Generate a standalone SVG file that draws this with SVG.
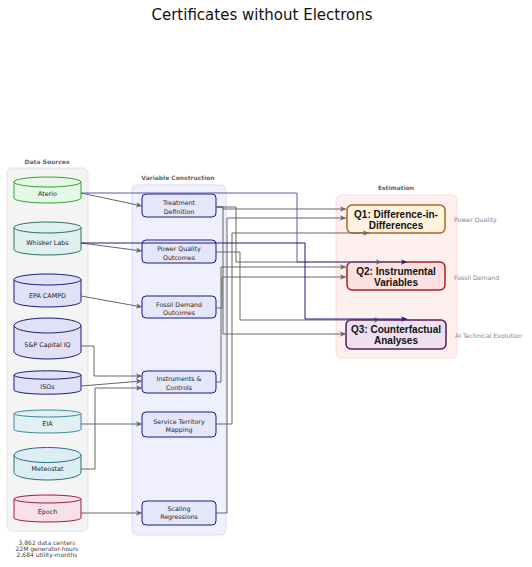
<svg xmlns="http://www.w3.org/2000/svg" width="532" height="567" viewBox="0 0 532 567">
<style>
text{font-family:"DejaVu Sans",sans-serif;fill:#222;text-anchor:middle;dominant-baseline:central}
.title{font-size:15px;fill:#111}
.grp{font-size:6px;font-weight:bold;fill:#666}
.cyl{font-size:6.4px}
.vc{font-size:6.3px}
.q{font-family:"Liberation Sans",Arial,sans-serif;font-size:10px;font-weight:bold;fill:#111}
.side{font-size:6.2px;fill:#888;text-anchor:start}
.foot{font-size:6px;fill:#444}
.vcn{fill:#e6e6fa;stroke:#1a1a80;stroke-width:1}
.g{fill:none;stroke:#666;stroke-width:1;marker-end:url(#ag)}
.gl{fill:none;stroke:#666;stroke-width:1}
.b1{fill:none;stroke:#5a5aaa;stroke-width:1;marker-end:url(#ab)}
.b2{fill:none;stroke:#1a1a80;stroke-width:1;marker-end:url(#ab)}
</style>
<defs>
<marker id="ag" markerUnits="userSpaceOnUse" markerWidth="7" markerHeight="6" refX="6" refY="3" orient="auto"><path d="M0,0.3 L6,3 L0,5.7 L1.6,3 Z" fill="#666"/></marker>
<marker id="ab" markerUnits="userSpaceOnUse" markerWidth="7" markerHeight="6" refX="6" refY="3" orient="auto"><path d="M0,0.3 L6,3 L0,5.7 L1.6,3 Z" fill="#1a1a80"/></marker>
</defs>
<rect width="532" height="567" fill="#fff"/>
<text class="title" x="262" y="15">Certificates without Electrons</text>

<g id="groups">
<rect x="7" y="168" width="81" height="363" rx="5" fill="#f4f4f4" stroke="#dddddd" stroke-width="0.8"/>
<text class="grp" x="47" y="161">Data Sources</text>
<rect x="132" y="185" width="94" height="350" rx="5" fill="#efeffd" stroke="#d4d4f4" stroke-width="0.8"/>
<text class="grp" x="178" y="177">Variable Construction</text>
<rect x="336" y="195" width="121" height="163" rx="5" fill="#fff0f0" stroke="#ffd0d0" stroke-width="0.8"/>
<text class="grp" x="396" y="187">Estimation</text>
</g>

<g id="aterio">
<path d="M14,182 V198 A33.5,5 0 0 0 81,198 V182 Z" fill="#e5f8e5" stroke="#3a9a3a"/>
<ellipse cx="47.5" cy="182" rx="33.5" ry="5" fill="#e5f8e5" stroke="#3a9a3a"/>
<text class="cyl" x="47.5" y="194">Aterio</text>
</g>
<g id="whisker">
<path d="M14,227.5 V249.5 A33.5,5.5 0 0 0 81,249.5 V227.5 Z" fill="#dff0ee" stroke="#2a7068"/>
<ellipse cx="47.5" cy="227.5" rx="33.5" ry="5.5" fill="#dff0ee" stroke="#2a7068"/>
<text class="cyl" x="47.5" y="243">Whisker Labs</text>
</g>
<g id="epa">
<path d="M14,279.5 V301.5 A33.5,5.5 0 0 0 81,301.5 V279.5 Z" fill="#e0e0f7" stroke="#1a1a7a"/>
<ellipse cx="47.5" cy="279.5" rx="33.5" ry="5.5" fill="#e0e0f7" stroke="#1a1a7a"/>
<text class="cyl" x="47.5" y="296">EPA CAMPD</text>
</g>
<g id="sp">
<path d="M14,325.5 V351.5 A33.5,7.5 0 0 0 81,351.5 V325.5 Z" fill="#e0e0f7" stroke="#1a1a7a"/>
<ellipse cx="47.5" cy="325.5" rx="33.5" ry="7.5" fill="#e0e0f7" stroke="#1a1a7a"/>
<text class="cyl" x="47.5" y="345">S&amp;P Capital IQ</text>
</g>
<g id="isos">
<path d="M14,375 V390 A33.5,4.2 0 0 0 81,390 V375 Z" fill="#e0e0f7" stroke="#1a1a7a"/>
<ellipse cx="47.5" cy="375" rx="33.5" ry="4.2" fill="#e0e0f7" stroke="#1a1a7a"/>
<text class="cyl" x="47.5" y="387">ISOs</text>
</g>
<g id="eia">
<path d="M14,413.5 V429.5 A33.5,3.5 0 0 0 81,429.5 V413.5 Z" fill="#e0f0f5" stroke="#3a8aa0"/>
<ellipse cx="47.5" cy="413.5" rx="33.5" ry="3.5" fill="#e0f0f5" stroke="#3a8aa0"/>
<text class="cyl" x="47.5" y="424">EIA</text>
</g>
<g id="meteostat">
<path d="M14,455 V472.5 A33.5,7.5 0 0 0 81,472.5 V455 Z" fill="#dceef3" stroke="#2a6a80"/>
<ellipse cx="47.5" cy="455" rx="33.5" ry="7.5" fill="#dceef3" stroke="#2a6a80"/>
<text class="cyl" x="47.5" y="469">Meteostat</text>
</g>
<g id="epoch">
<path d="M14,499 V518 A33.5,4 0 0 0 81,518 V499 Z" fill="#f8e0e8" stroke="#9a1a4a"/>
<ellipse cx="47.5" cy="499" rx="33.5" ry="4" fill="#f8e0e8" stroke="#9a1a4a"/>
<text class="cyl" x="47.5" y="512">Epoch</text>
</g>

<g id="treatment"><rect class="vcn" x="142" y="194" width="74" height="23" rx="4"/><text class="vc" x="179" y="202">Treatment</text><text class="vc" x="179" y="211">Definition</text></g>
<g id="powerquality"><rect class="vcn" x="142" y="240" width="74" height="23" rx="4"/><text class="vc" x="179" y="248">Power Quality</text><text class="vc" x="179" y="257">Outcomes</text></g>
<g id="fossildemand"><rect class="vcn" x="142" y="296" width="74" height="22" rx="4"/><text class="vc" x="179" y="304">Fossil Demand</text><text class="vc" x="179" y="312">Outcomes</text></g>
<g id="instruments"><rect class="vcn" x="142" y="371" width="74" height="22" rx="4"/><text class="vc" x="179" y="378">Instruments &amp;</text><text class="vc" x="179" y="387">Controls</text></g>
<g id="territory"><rect class="vcn" x="142" y="412" width="74" height="25" rx="4"/><text class="vc" x="179" y="421">Service Territory</text><text class="vc" x="179" y="429">Mapping</text></g>
<g id="scaling"><rect class="vcn" x="142" y="501" width="74" height="24" rx="4"/><text class="vc" x="179" y="508">Scaling</text><text class="vc" x="179" y="516">Regressions</text></g>

<g id="q1"><rect x="347" y="205" width="98" height="28" rx="5" fill="#fff3e0" stroke="#b0651d" stroke-width="1.5"/><text class="q" x="396" y="214">Q1: Difference-in-</text><text class="q" x="396" y="225">Differences</text></g>
<g id="q2"><rect x="347" y="262" width="98" height="28" rx="5" fill="#ffe0e0" stroke="#ae1c1c" stroke-width="1.5"/><text class="q" x="396" y="271">Q2: Instrumental</text><text class="q" x="396" y="282">Variables</text></g>
<g id="q3"><rect x="346" y="320" width="100" height="29" rx="5" fill="#efe0f0" stroke="#5a1a5a" stroke-width="1.5"/><text class="q" x="396" y="329">Q3: Counterfactual</text><text class="q" x="396" y="340">Analyses</text></g>

<g id="labels">
<text class="side" x="454" y="219">Power Quality</text>
<text class="side" x="454" y="277">Fossil Demand</text>
<text class="side" x="455" y="335">AI Technical Evolution</text>
<text class="foot" x="47" y="542">3,862 data centers</text>
<text class="foot" x="47" y="548">22M generator-hours</text>
<text class="foot" x="47" y="554">2,684 utility-months</text>
</g>

<g id="connectors">
<path class="g" d="M81,193 L142,206"/>
<path class="g" d="M81,243 L142,251"/>
<path class="g" d="M81,296 L142,307"/>
<path class="g" d="M81,346 H94 V376 H142"/>
<path class="g" d="M81,386 L142,381"/>
<path class="g" d="M81,469 H95 V388 H142"/>
<path class="g" d="M81,424 H142"/>
<path class="g" d="M81,513 H142"/>
<path class="g" d="M216,207 H223 V209 H346"/>
<path class="g" d="M216,207 H223 V334 H346"/>
<path class="g" d="M216,207 H236 V262 H382"/>
<path class="g" d="M216,252 H240 V320 H380"/>
<path class="g" d="M216,308 H222 V277 H346"/>
<path class="g" d="M216,382 H221 V267 H346"/>
<path class="g" d="M216,424 H232 V233 H369"/>
<path class="g" d="M216,513 H227 V218 H346"/>
<path class="b1" d="M81,193 H297 V262 H407"/>
<path class="b2" d="M81,243 H305 V319 H407"/>
</g>
</svg>
